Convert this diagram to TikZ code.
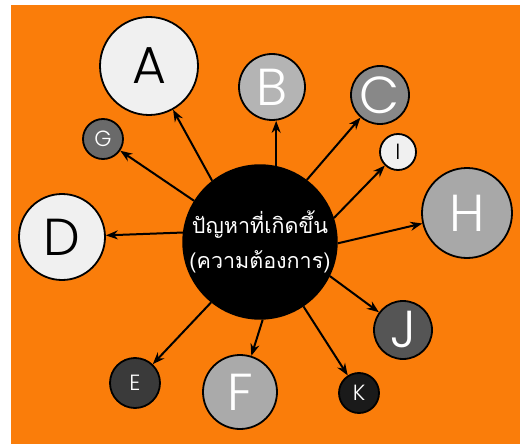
\documentclass[tikz,border=0pt]{standalone}
\usepackage{fontspec}
\setmainfont{Poppins}[UprightFont=* Light]
\newfontfamily\thaifont[Script=Thai]{Loma}
\usetikzlibrary{arrows.meta}
\definecolor{bgorange}{RGB}{250,125,10}
\tikzset{
  bubble/.style={circle, draw=black, line width=1.8pt, inner sep=0pt},
  big/.style={font=\fontsize{52}{52}\selectfont},
  small/.style={font=\fontsize{22}{22}\selectfont},
  link/.style={line width=2pt, -{Stealth[length=12pt,width=9pt]}}
}
\begin{document}
\begin{tikzpicture}[x=1pt,y=-1pt]
\useasboundingbox (0,0) rectangle (520,444);
\fill[white] (0,0) rectangle (520,444);
\fill[bgorange] (11,5) rectangle (520,444);
\node[bubble, fill=black, minimum size=148pt, text=white, align=center,
  font=\thaifont\fontsize{21.5}{35}\selectfont] (ctr) at (260,242)
  {ปัญหาที่เกิดขึ้น\\(ความต้องการ)};
\node[bubble, big, fill={rgb,255:red,240;green,240;blue,240}, minimum size=98pt] (A) at (149,66) {A};
\node[bubble, big, fill={rgb,255:red,180;green,180;blue,180}, text=white, minimum size=66pt] (B) at (272,87) {B};
\node[bubble, big, fill={rgb,255:red,136;green,136;blue,136}, text=white, minimum size=58pt] (C) at (380,95) {C};
\node[bubble, small, fill={rgb,255:red,106;green,106;blue,106}, text=white, minimum size=40pt] (G) at (103,139) {G};
\node[bubble, small, fill={rgb,255:red,240;green,240;blue,240}, minimum size=36pt] (I) at (398,152) {I};
\node[bubble, big, fill={rgb,255:red,240;green,240;blue,240}, minimum size=86pt] (D) at (62,237) {D};
\node[bubble, big, fill={rgb,255:red,168;green,168;blue,168}, text=white, minimum size=90pt] (H) at (467,213) {H};
\node[bubble, big, fill={rgb,255:red,85;green,85;blue,85}, text=white, minimum size=58pt] (J) at (403,330) {J};
\node[bubble, small, fill={rgb,255:red,58;green,58;blue,58}, text=white, minimum size=50pt] (E) at (135,383) {E};
\node[bubble, big, fill={rgb,255:red,170;green,170;blue,170}, text=white, minimum size=74pt] (F) at (240,392) {F};
\node[bubble, small, fill={rgb,255:red,26;green,26;blue,26}, text=white, minimum size=40pt] (K) at (359,393) {K};
\draw[link] (ctr.128) -- (A);
\draw[link] (ctr.78) -- (ctr.78 |- B.south);
\draw[link] (ctr.53) -- (C);
\draw[link] (ctr.148) -- (G);
\draw[link] (ctr.18) -- (I);
\draw[link] (ctr.173) -- (D);
\draw[link] (ctr.-1) -- (H);
\draw[link] (ctr.-26) -- (J);
\draw[link] (ctr.-56) -- (K);
\draw[link] (ctr.-88) -- (F);
\draw[link] (ctr.-129) -- (E);
\end{tikzpicture}
\end{document}
